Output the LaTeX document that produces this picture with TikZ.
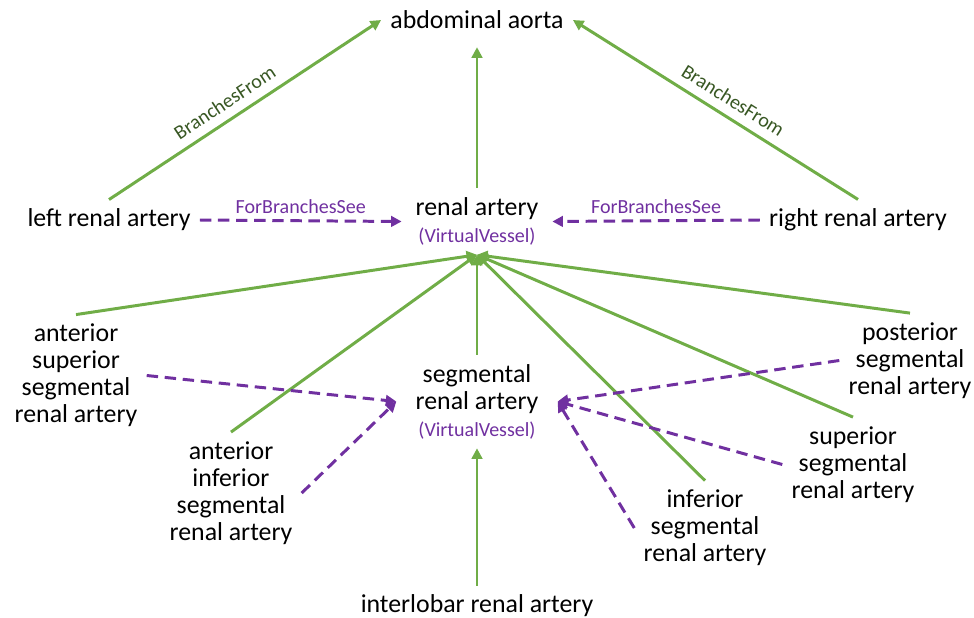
\documentclass[tikz,border=0pt]{standalone}
\usepackage{fontspec}
\setmainfont{Carlito}
\usepackage{tikz}
\usetikzlibrary{arrows.meta}
\usepackage{xcolor}
\definecolor{relgreen}{HTML}{70AD47}
\definecolor{relpurple}{HTML}{7030A0}
\definecolor{labgreen}{HTML}{385723}
\newcommand{\virtualtag}{{\color{relpurple}\fontsize{11.4}{13}\selectfont(VirtualVessel)}}

\begin{document}
\begin{tikzpicture}[>={Triangle[length=6pt,width=6pt]},font=\fontsize{14.7}{15.4}\selectfont,
  vessel/.style={align=center,outer sep=2pt},
  branch/.style={->,relgreen,line width=1.7pt},
  see/.style={->,relpurple,line width=1.7pt,dash pattern=on 6.5pt off 3.8pt},
  lab/.style={font=\fontsize{11.4}{13}\selectfont,inner sep=3pt}]
\useasboundingbox (0,0) rectangle (19.48,12.34);
% vessels
\node[vessel] (aorta) at (9.54,11.94) {abdominal aorta};
\node[vessel] (lra) at (2.18,7.94) {left renal artery};
\node[vessel] (rra) at (17.16,7.94) {right renal artery};
\node[vessel,inner xsep=6pt] (renal) at (9.54,7.91) {renal artery\\\virtualtag};
\node[vessel,inner xsep=9pt] (seg) at (9.54,4.31) {segmental\\renal artery\\\virtualtag};
\node[vessel] (asra) at (1.52,4.83) {anterior\\superior\\segmental\\renal artery};
\node[vessel] (aira) at (4.62,2.48) {anterior\\inferior\\segmental\\renal artery};
\node[vessel] (psra) at (18.2,5.13) {posterior\\segmental\\renal artery};
\node[vessel] (ssra) at (17.06,3.05) {superior\\segmental\\renal artery};
\node[vessel] (isra) at (14.1,1.78) {inferior\\segmental\\renal artery};
\node[vessel] (ilra) at (9.54,0.22) {interlobar renal artery};
% branches
\draw[branch] (lra.north) -- node[lab,sloped,above=2pt,pos=0.46,text=labgreen] {BranchesFrom} (aorta.west);
\draw[branch] (rra.north) -- node[lab,sloped,above=2pt,pos=0.47,text=labgreen] {BranchesFrom} (aorta.east);
\draw[branch,shorten >=5pt] (renal.north) -- (aorta.south);
\draw[branch] (asra.north) -- (renal.south);
\draw[branch] (aira.north) -- (renal.south);
\draw[branch] (seg.north) -- (renal.south);
\draw[branch] (isra.north) -- (renal.south);
\draw[branch] (ssra.north) -- (renal.south);
\draw[branch] (psra.north) -- (renal.south);
\draw[branch] (ilra.north) -- (seg.south);
% see also
\draw[see] (lra.east) -- node[lab,above,text=relpurple] {ForBranchesSee} (renal.west);
\draw[see] (rra.west) -- node[lab,above,text=relpurple] {ForBranchesSee} (renal.east);
\draw[see] (asra.east) -- (seg.west);
\draw[see] (aira.east) -- (seg.west);
\draw[see] (psra.west) -- (seg.east);
\draw[see] (ssra.west) -- (seg.east);
\draw[see] (isra.west) -- (seg.east);
\end{tikzpicture}
\end{document}
